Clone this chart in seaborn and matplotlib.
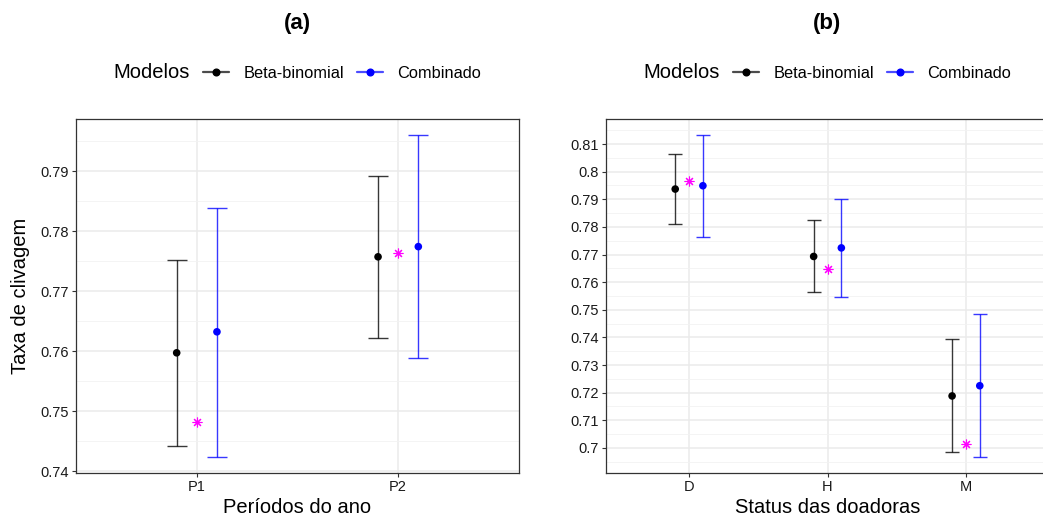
import matplotlib
matplotlib.use("Agg")
import matplotlib.pyplot as plt
import numpy as np
import pandas as pd
import seaborn as sns
from matplotlib.lines import Line2D
from matplotlib.ticker import FixedLocator, FuncFormatter

# ---- (a) cleavage rate by period of the year ----
periodos = ["P1", "P2"]
beta_a = [0.7597, 0.7757]
beta_a_lo = [0.7442, 0.7622]
beta_a_hi = [0.7752, 0.7892]
comb_a = [0.7632, 0.7774]
comb_a_lo = [0.7423, 0.7588]
comb_a_hi = [0.7838, 0.7960]
obs_a = [0.7482, 0.7763]

# ---- (b) cleavage rate by donor status ----
status = ["D", "H", "M"]
beta_b = [0.7937, 0.7693, 0.7188]
beta_b_lo = [0.7811, 0.7563, 0.6986]
beta_b_hi = [0.8065, 0.7825, 0.7395]
comb_b = [0.7949, 0.7724, 0.7225]
comb_b_lo = [0.7764, 0.7545, 0.6966]
comb_b_hi = [0.8134, 0.7902, 0.7486]
obs_b = [0.7965, 0.7649, 0.7014]

modelos = ["Beta-binomial", "Combinado"]
cores = {"Beta-binomial": "#000000", "Combinado": "#0000FF"}
desloc = {"Beta-binomial": -0.1, "Combinado": 0.1}

sns.set_theme(style="whitegrid")
plt.rcParams["font.family"] = ["Liberation Sans", "DejaVu Sans"]
plt.rcParams["text.color"] = "black"
plt.rcParams["axes.labelcolor"] = "black"

W, H = 1043, 521
fig = plt.figure(figsize=(W / 100, H / 100), dpi=100)
fig.patch.set_facecolor("white")


def monta(cats, b, blo, bhi, c, clo, chi):
    linhas = []
    for i, cat in enumerate(cats):
        linhas.append(dict(cat=cat, modelo="Beta-binomial", est=b[i], lo=blo[i], hi=bhi[i]))
        linhas.append(dict(cat=cat, modelo="Combinado", est=c[i], lo=clo[i], hi=chi[i]))
    df = pd.DataFrame(linhas)
    df["pos"] = df["cat"].map({c_: i for i, c_ in enumerate(cats)}) + df["modelo"].map(desloc)
    return df


def painel(rect, cats, df, obs, ylim, yticks, minor, capsize, xlabel, ylabel, fmt):
    ax = fig.add_axes(rect)
    ax.set_facecolor("white")
    for m in modelos:
        d = df[df["modelo"] == m]
        ax.errorbar(d["pos"], d["est"], yerr=[d["est"] - d["lo"], d["hi"] - d["est"]],
                    fmt="none", ecolor=cores[m], alpha=0.78, elinewidth=1.0,
                    capsize=capsize, capthick=1.0, zorder=3)
    sns.scatterplot(data=df, x="pos", y="est", hue="modelo", palette=cores,
                    s=30, edgecolor="none", legend=False, ax=ax, zorder=4)
    ax.plot(np.arange(len(cats)), obs, linestyle="none", marker=(8, 2, 0),
            markersize=7, markeredgewidth=0.8, color="#FF00FF", zorder=5)

    ax.set_xlim(-0.6, len(cats) - 0.4)
    ax.set_ylim(*ylim)
    ax.set_xticks(np.arange(len(cats)))
    ax.set_xticklabels(cats)
    ax.yaxis.set_major_locator(FixedLocator(yticks))
    ax.yaxis.set_minor_locator(FixedLocator(minor))
    ax.yaxis.set_major_formatter(FuncFormatter(fmt))

    ax.grid(which="major", color="#EBEBEB", linewidth=1.1)
    ax.grid(which="minor", axis="y", color="#F2F2F2", linewidth=0.6)
    ax.grid(which="minor", axis="x", visible=False)
    ax.set_axisbelow(True)
    for s in ax.spines.values():
        s.set_visible(True)
        s.set_color("#333333")
        s.set_linewidth(0.9)
    ax.tick_params(axis="both", which="major", length=3.2, width=0.8, color="#333333",
                   labelsize=10.5, labelcolor="#1A1A1A", pad=2, left=True, bottom=True)
    ax.tick_params(axis="both", which="minor", length=0)

    ax.set_xlabel(xlabel, fontsize=14.5, color="black")
    ax.xaxis.set_label_coords(0.5, -0.072)
    if ylabel:
        ax.set_ylabel(ylabel, fontsize=14.5, color="black")
        ax.yaxis.set_label_coords(-0.104, 0.5)
    else:
        ax.set_ylabel("")
    return ax


def fmt_a(v, p):
    return f"{v:.2f}"


def fmt_b(v, p):
    return f"{v:g}"


df_a = monta(periodos, beta_a, beta_a_lo, beta_a_hi, comb_a, comb_a_lo, comb_a_hi)
df_b = monta(status, beta_b, beta_b_lo, beta_b_hi, comb_b, comb_b_lo, comb_b_hi)

top, bot = 119, 473
ya = (1 - bot / H, (bot - top) / H)

ticks_a = [0.74, 0.75, 0.76, 0.77, 0.78, 0.79]
minor_a = [0.745, 0.755, 0.765, 0.775, 0.785, 0.795]
ticks_b = [0.70, 0.71, 0.72, 0.73, 0.74, 0.75, 0.76, 0.77, 0.78, 0.79, 0.80, 0.81]
minor_b = [0.695, 0.705, 0.715, 0.725, 0.735, 0.745, 0.755, 0.765, 0.775, 0.785,
           0.795, 0.805, 0.815]

ax_a = painel([76 / W, ya[0], 443 / W, ya[1]], periodos, df_a, obs_a,
              (0.73967, 0.79867), ticks_a, minor_a, 7.2,
              "Períodos do ano", "Taxa de clivagem", fmt_a)
ax_b = painel([606 / W, ya[0], 443 / W, ya[1]], status, df_b, obs_b,
              (0.69091, 0.81906), ticks_b, minor_b, 5.0,
              "Status das doadoras", None, fmt_b)

# panel titles
fig.text(297.5 / W, 1 - 24 / H, "(a)", ha="center", va="center", fontsize=16,
         fontweight="bold", color="black")
fig.text(827.5 / W, 1 - 24 / H, "(b)", ha="center", va="center", fontsize=16,
         fontweight="bold", color="black")


# legends above each panel
def chave(cor):
    linha = Line2D([0], [0], color=cor, alpha=0.7, linewidth=1.6)
    ponto = Line2D([0], [0], color=cor, marker="o", markersize=4.8, linestyle="none")
    return (linha, ponto)


for dx in (0, 530):
    fig.text((113 + dx) / W, 1 - 73 / H, "Modelos", ha="left", va="center",
             fontsize=14.5, color="black")
    leg = fig.legend([chave(cores[m]) for m in modelos], modelos, loc="center left",
                     bbox_to_anchor=((203 + dx) / W, 1 - 73 / H), ncol=2, frameon=False,
                     fontsize=11.8, borderpad=0, borderaxespad=0, handlelength=1.6,
                     handletextpad=0.85, columnspacing=0.8)
    for t in leg.get_texts():
        t.set_color("black")

fig.savefig("out.png", dpi=100, facecolor="white")
